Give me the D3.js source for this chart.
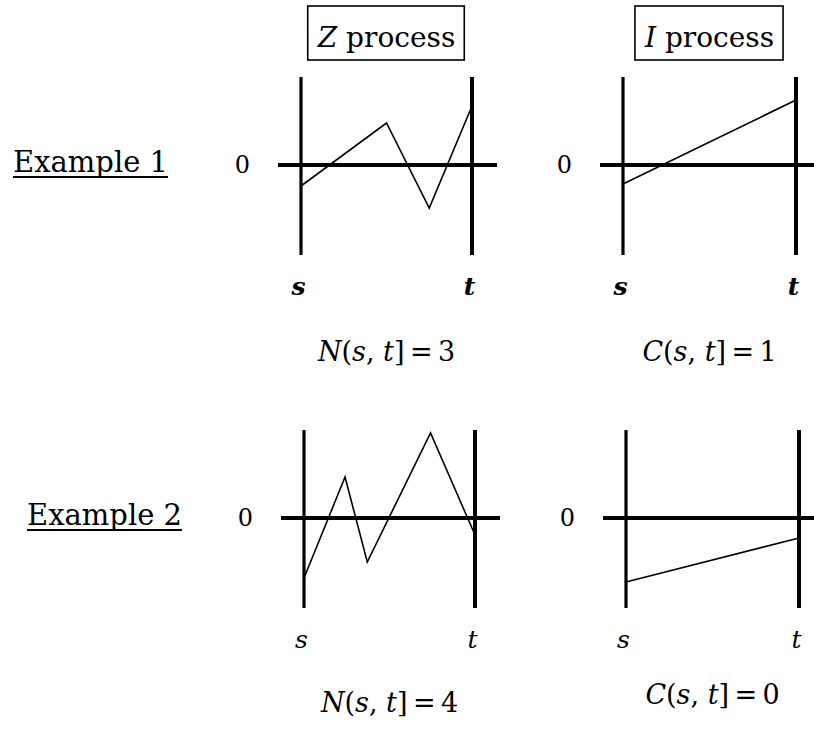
<!DOCTYPE html>
<html>
<head>
<meta charset="utf-8">
<script src="https://cdn.jsdelivr.net/npm/d3@7"></script>
<style>
  body { margin: 0; background: #fff; }
  svg { display: block; }
  text { font-family: "DejaVu Serif", "Liberation Serif", serif; fill: #000; }
</style>
</head>
<body>
<div id="chart"></div>
<script>
// row / column labels
const rowLabels = ["Example 1", "Example 2"];
const processNames = ["Z", "I"];
const endLabels = ["s", "t"];
const countNames = ["N", "C"];

// path vertices: [fraction of (s,t], level relative to 0]
const zExample1 = [[0, -21], [0.50, 42], [0.75, -43], [1, 59]];
const iExample1 = [[0, -19], [1, 65]];
const zExample2 = [[0, -60], [0.24, 41], [0.37, -44], [0.74, 85], [1, -17]];
const iExample2 = [[0, -64], [1, -20]];

// crossing counts shown under each panel
const nCounts = [3, 4];
const cCounts = [1, 0];

const paths = [[zExample1, iExample1], [zExample2, iExample2]];
const counts = [[nCounts[0], cCounts[0]], [nCounts[1], cCounts[1]]];

const w = 814;
const h = 733;

const colX = [[301, 472], [623, 796]];
const rowZero = [165, 518];
const rowShift = [0, 3];
const rowLabelX = [13, 27];
const countBaseline = [[361, 361], [712, 704]];

const svg = d3.select('#chart')
    .append('svg')
    .attr('width', w)
    .attr('height', h);

// titles in boxes
processNames.forEach((p, c) => {
    const cx = (colX[c][0] + colX[c][1]) / 2;
    const g = svg.append('g');
    const txt = g.append('text')
        .attr('x', cx)
        .attr('y', 47)
        .attr('text-anchor', 'middle')
        .style('font-size', '28px');
    txt.append('tspan').style('font-style', 'italic').text(p);
    txt.append('tspan').text(' process');
    const bb = txt.node().getBBox();
    g.insert('rect', 'text')
        .attr('x', bb.x - 9)
        .attr('y', 6)
        .attr('width', bb.width + 18)
        .attr('height', 54)
        .attr('fill', 'none')
        .attr('stroke', '#000')
        .attr('stroke-width', 1.6);
});

rowLabels.forEach((label, r) => {
    const zero = rowZero[r];
    const t = svg.append('text')
        .attr('x', rowLabelX[r])
        .attr('y', zero + 7)
        .style('font-size', '29px')
        .text(label);
    const bb = t.node().getBBox();
    svg.append('line')
        .attr('x1', bb.x).attr('x2', bb.x + bb.width)
        .attr('y1', zero + 12).attr('y2', zero + 12)
        .attr('stroke', '#000').attr('stroke-width', 1.8);

    processNames.forEach((p, c) => {
        const x0 = colX[c][0] + rowShift[r];
        const x1 = colX[c][1] + rowShift[r];
        const x = d3.scaleLinear().domain([0, 1]).range([x0, x1]);
        const y = d3.scaleLinear().domain([-90, 88]).range([zero + 90, zero - 88]);
        const g = svg.append('g');

        // zero level
        g.append('line')
            .attr('x1', x0 - 23).attr('x2', x1 + 25)
            .attr('y1', y(0)).attr('y2', y(0))
            .attr('stroke', '#000').attr('stroke-width', 4);

        // s and t bars
        g.selectAll('.bar')
            .data([0, 1])
            .enter()
            .append('line')
            .attr('x1', d => x(d)).attr('x2', d => x(d))
            .attr('y1', y(88)).attr('y2', y(-90))
            .attr('stroke', '#000')
            .attr('stroke-width', d => d === 0 ? 3.2 : 4);

        // process path
        g.append('path')
            .datum(paths[r][c])
            .attr('d', d3.line().x(d => x(d[0])).y(d => y(d[1])))
            .attr('fill', 'none')
            .attr('stroke', '#000')
            .attr('stroke-width', 1.6);

        // "0" label
        const yAxis = d3.axisLeft(y).tickValues([0]).tickSize(0).tickPadding(28);
        g.append('g')
            .attr('transform', `translate(${x0 - 23},0)`)
            .call(yAxis)
            .call(a => a.select('.domain').remove())
            .selectAll('text')
            .attr('dy', '0.3em')
            .style('font-size', '24px')
            .style('font-family', '"DejaVu Serif", serif');

        // s, t labels
        const xAxis = d3.axisBottom(x).tickValues([0, 1])
            .tickFormat((d, i) => endLabels[i]).tickSize(0).tickPadding(22);
        g.append('g')
            .attr('transform', `translate(-3,${y(-90)})`)
            .call(xAxis)
            .call(a => a.select('.domain').remove())
            .selectAll('text')
            .style('font-size', '25px')
            .style('font-style', 'italic')
            .style('font-weight', r === 0 ? 'bold' : 'normal')
            .style('font-family', '"DejaVu Serif", serif');

        // count formula
        const f = g.append('text')
            .attr('x', (x0 + x1) / 2)
            .attr('y', countBaseline[r][c])
            .attr('text-anchor', 'middle')
            .style('font-size', '27px');
        f.append('tspan').style('font-style', 'italic').text(countNames[c]);
        f.append('tspan').text('(');
        f.append('tspan').style('font-style', 'italic').text('s');
        f.append('tspan').text(', ');
        f.append('tspan').style('font-style', 'italic').text('t');
        f.append('tspan').text(']\u2009=\u2009' + counts[r][c]);
    });
});
</script>
</body>
</html>
